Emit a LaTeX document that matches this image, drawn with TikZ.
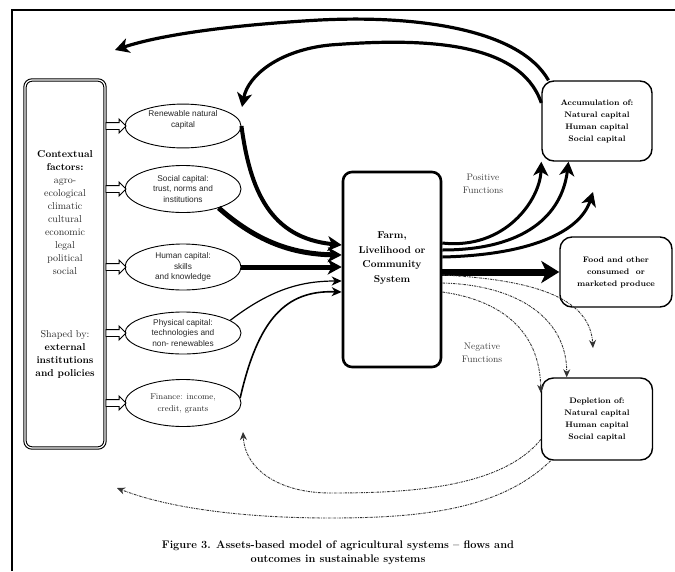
\documentclass[tikz,border=0pt]{standalone}
\usepackage{fontspec}
\newfontfamily\arialfont{Liberation Sans}
\usetikzlibrary{positioning, arrows.meta, shapes.geometric, shapes.arrows}

\tikzset{
  ctxbox/.style={draw, double, double distance=1.2pt, line width=1.1pt, rounded corners=7pt,
    minimum width=80pt, minimum height=368pt, align=center, inner sep=0pt,
    font=\fontsize{10}{13}\selectfont, text=black!85},
  capell/.style={ellipse, draw, line width=0.9pt, minimum width=116pt, minimum height=42pt,
    inner sep=0pt, align=center, font=\arialfont\fontsize{8.3}{10.5}\selectfont, text=black!85},
  hollow/.style={single arrow, draw, line width=0.9pt, fill=white, minimum height=20pt,
    inner sep=3pt, single arrow head extend=3.5pt},
  sysbox/.style={draw, line width=2.6pt, rounded corners=9pt, minimum width=98pt, minimum height=195pt},
  outbox/.style={draw, line width=1.4pt, rounded corners=12pt, align=center,
    font=\bfseries\fontsize{8}{12}\selectfont},
  funlabel/.style={align=center, font=\fontsize{9.5}{12.5}\selectfont, text=black!75},
  bigarr/.style={line width=4pt, -{Stealth[length=14pt, width=15pt, inset=4pt]}},
  thinarr/.style={line width=1.6pt, -{Stealth[length=10pt, width=9pt, inset=3pt]}},
  negarr/.style={black!80, line width=0.9pt, dash pattern=on 2.5pt off 1pt on 0.8pt off 1pt,
    -{Stealth[length=8pt, width=7pt]}}
}

\begin{document}
\begin{tikzpicture}[x=1pt, y=-1pt]
\useasboundingbox (0,0) rectangle (675,571);

% frame
\draw[line width=1.2pt] (12,571) -- (12,10) -- (675,10);

% contextual factors
\node[ctxbox] (ctx) at (65,264) {\textbf{\color{black}Contextual}\\\textbf{\color{black}factors:}\\agro-\\ecological\\climatic\\cultural\\economic\\legal\\political\\social\\[50pt]Shaped by:\\\textbf{\color{black}external}\\\textbf{\color{black}institutions}\\\textbf{\color{black}and policies}};

% capital assets
\node[capell] (ren) at (183,126) {Renewable natural\\capital\\[4pt]};
\node[capell, minimum height=47pt] (soc) at (183,189) {Social capital:\\trust, norms and\\institutions};
\node[capell, minimum height=46pt] (hum) at (183,267) {Human capital:\\skills\\and knowledge};
\node[capell] (phy) at (183,333) {Physical capital:\\technologies and\\non- renewables};
\node[capell, minimum height=47pt, font=\fontsize{8.5}{12}\selectfont] (fin) at (183,403) {Finance: income,\\credit, grants};

% inputs from context
\foreach \c in {ren, soc, hum, phy, fin}
  \node[hollow, anchor=west] (in-\c) at (ctx.east |- \c.west) {};

% system and outcomes
\node[sysbox] (farm) at (392,269.5) {};
\node[align=center, font=\bfseries\fontsize{10}{14.5}\selectfont] (farmtxt) at (392,258)
  {Farm,\\Livelihood or\\Community\\System};
\node[outbox, minimum width=110pt, minimum height=80pt] (acc) at (597,121)
  {Accumulation of:\\Natural capital\\Human capital\\Social capital};
\node[outbox, minimum width=112pt, minimum height=70pt] (food) at (616,272)
  {Food and other\\consumed~ or\\marketed produce};
\node[outbox, minimum width=111pt, minimum height=82pt] (dep) at (597,419)
  {Depletion of:\\Natural capital\\Human capital\\Social capital};
\node[funlabel] (pos) at (483,184) {Positive\\Functions};
\node[funlabel] (neg) at (482,353) {Negative\\Functions};

% free ends
\coordinate (fbleft) at (115,50);
\coordinate (fbtop) at (242,107);
\coordinate (posend) at (593,192);
\coordinate (negend) at (593,348);
\coordinate (retlow) at (243,432);
\coordinate (retleft) at (117,488);

% feedback from accumulation
\draw[bigarr, line width=3.2pt] (acc.140) .. controls (520,30) and (420,15) .. (320,20)
  .. controls (230,25) and (160,35) .. (fbleft);
\draw[bigarr, line width=3.2pt] (acc.162) .. controls (520,40) and (420,38) .. (330,45)
  .. controls (280,50) and (248,75) .. (fbtop);

% assets into the system
\draw[bigarr] (ren.east) .. controls (250,190) and (270,238) .. ([yshift=24.5pt]farm.west);
\draw[bigarr, line width=5pt] (soc.-28) .. controls (255,240) and (290,254) .. ([yshift=14.5pt]farm.west);
\draw[bigarr, line width=5pt] (hum.east) -- (farm.west |- hum.east);
\draw[thinarr, line width=1.2pt] (phy.15) .. controls (270,290) and (300,281) .. ([yshift=-11.5pt]farm.west);
\draw[thinarr] (fin.5) .. controls (258,320) and (285,290) .. ([yshift=-22.5pt]farm.west);

% positive functions
\draw[bigarr, line width=3pt] ([yshift=26.5pt]farm.east) .. controls (505,250) and (540,200) .. (acc.south west);
\draw[bigarr, line width=3pt] ([yshift=19.5pt]farm.east) .. controls (525,250) and (562,215) .. (acc.235);
\draw[bigarr, line width=3pt] ([yshift=12.5pt]farm.east) .. controls (530,255) and (580,232) .. (posend);
\draw[line width=7pt, -{Stealth[length=18pt, width=22pt, inset=5pt]}] (farm.east |- food.west) -- (food.west);

% negative functions
\draw[negarr] ([yshift=-5.5pt]farm.east) .. controls (540,280) and (590,300) .. (negend);
\draw[negarr] ([yshift=-13.5pt]farm.east) .. controls (520,285) and (567,320) .. (dep.126);
\draw[negarr] ([yshift=-22.5pt]farm.east) .. controls (500,300) and (540,330) .. (dep.155);

% returns from depletion
\draw[negarr] (dep.200) .. controls (500,490) and (400,493) .. (330,493)
  .. controls (280,493) and (245,470) .. (retlow);
\draw[negarr] (dep.222) .. controls (500,510) and (420,518) .. (330,518)
  .. controls (230,518) and (160,505) .. (retleft);

% caption
\node[align=center, font=\bfseries\fontsize{11}{14}\selectfont] (cap) at (338,553)
  {Figure 3. Assets-based model of agricultural systems -- flows and\\outcomes in sustainable systems};

\end{tikzpicture}
\end{document}
